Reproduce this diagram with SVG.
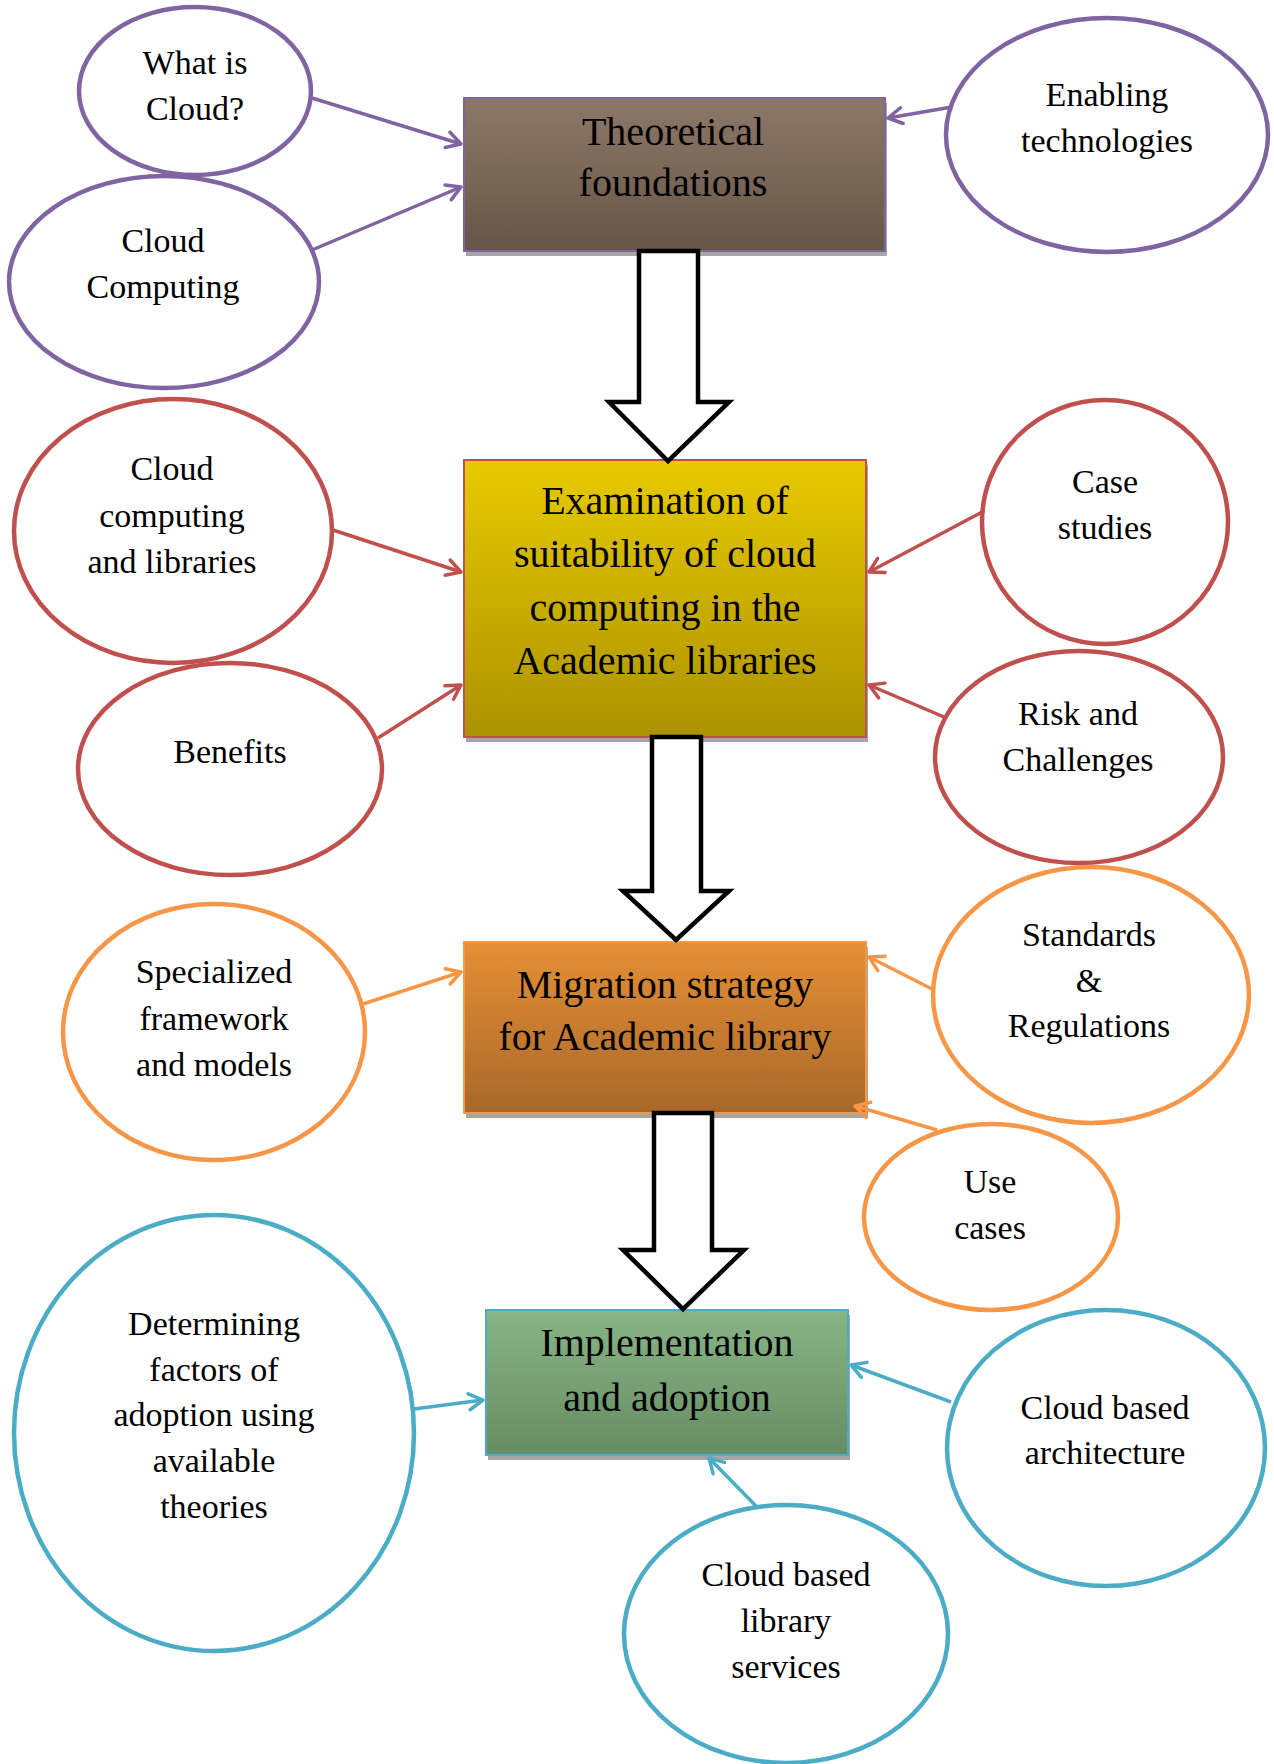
<svg xmlns="http://www.w3.org/2000/svg" width="1274" height="1764" viewBox="0 0 1274 1764">
<style>
.t{font-family:"Liberation Serif","Times New Roman",serif;fill:#000;text-anchor:middle}
.e{font-size:34px}
.b{font-size:40px}
.pu{stroke:#8064A2}
.rd{stroke:#C0504D}
.or{stroke:#F79646}
.bl{stroke:#4BACC6}
ellipse{fill:#fff;stroke-width:4.5}
.c line{stroke-width:3.5;fill:none}
.sh{fill:#a6a6a6}
.blk{fill:#fff;stroke:#000;stroke-width:4.5;stroke-linejoin:miter}
</style>
<defs>
<linearGradient id="g1" x1="0" y1="0" x2="0" y2="1"><stop offset="0" stop-color="#8D7868"/><stop offset="1" stop-color="#665647"/></linearGradient>
<linearGradient id="g2" x1="0" y1="0" x2="0" y2="1"><stop offset="0" stop-color="#E8CA00"/><stop offset="1" stop-color="#AC9200"/></linearGradient>
<linearGradient id="g3" x1="0" y1="0" x2="0" y2="1"><stop offset="0" stop-color="#E68F35"/><stop offset="1" stop-color="#A8682A"/></linearGradient>
<linearGradient id="g4" x1="0" y1="0" x2="0" y2="1"><stop offset="0" stop-color="#88B585"/><stop offset="1" stop-color="#668C64"/></linearGradient>
<marker id="mpu" viewBox="0 0 20 20" refX="18" refY="10" markerWidth="20" markerHeight="20" orient="auto" markerUnits="userSpaceOnUse"><path d="M4,2 L18,10 L4,18" fill="none" stroke="#8064A2" stroke-width="3.5" stroke-linecap="round" stroke-linejoin="round"/></marker>
<marker id="mrd" viewBox="0 0 20 20" refX="18" refY="10" markerWidth="20" markerHeight="20" orient="auto" markerUnits="userSpaceOnUse"><path d="M4,2 L18,10 L4,18" fill="none" stroke="#C0504D" stroke-width="3.5" stroke-linecap="round" stroke-linejoin="round"/></marker>
<marker id="mor" viewBox="0 0 20 20" refX="18" refY="10" markerWidth="20" markerHeight="20" orient="auto" markerUnits="userSpaceOnUse"><path d="M4,2 L18,10 L4,18" fill="none" stroke="#F79646" stroke-width="3.5" stroke-linecap="round" stroke-linejoin="round"/></marker>
<marker id="mbl" viewBox="0 0 20 20" refX="18" refY="10" markerWidth="20" markerHeight="20" orient="auto" markerUnits="userSpaceOnUse"><path d="M4,2 L18,10 L4,18" fill="none" stroke="#4BACC6" stroke-width="3.5" stroke-linecap="round" stroke-linejoin="round"/></marker>
</defs>

<!-- main boxes -->
<g id="theoretical">
<rect class="sh" x="466" y="103" width="421" height="153"/>
<rect x="464" y="98" width="421" height="153" fill="url(#g1)" stroke="#8064A2" stroke-width="2"/>
<text class="t b" x="673" y="145">Theoretical</text>
<text class="t b" x="673" y="196">foundations</text>
</g>
<g id="examination">
<rect class="sh" x="466" y="465" width="402" height="277"/>
<rect x="464" y="460" width="402" height="277" fill="url(#g2)" stroke="#C0504D" stroke-width="2"/>
<text class="t b" x="665" y="514">Examination of</text>
<text class="t b" x="665" y="567">suitability of cloud</text>
<text class="t b" x="665" y="621">computing in the</text>
<text class="t b" x="665" y="674">Academic libraries</text>
</g>
<g id="migration">
<rect class="sh" x="466" y="947" width="402" height="171"/>
<rect x="464" y="942" width="402" height="171" fill="url(#g3)" stroke="#F79646" stroke-width="2"/>
<text class="t b" x="665" y="998">Migration strategy</text>
<text class="t b" x="665" y="1050">for Academic library</text>
</g>
<g id="implementation">
<rect class="sh" x="488" y="1315" width="362" height="145"/>
<rect x="486" y="1310" width="362" height="145" fill="url(#g4)" stroke="#4BACC6" stroke-width="2"/>
<text class="t b" x="667" y="1356">Implementation</text>
<text class="t b" x="667" y="1411">and adoption</text>
</g>

<!-- block arrows -->
<g id="flow-arrows">
<path class="blk" d="M639,251 L639,402 L609,402 L668,461 L729,402 L698,402 L698,251 Z"/>
<path class="blk" d="M652,737 L652,891 L623,891 L676,940 L729,891 L701,891 L701,737 Z"/>
<path class="blk" d="M654,1113 L654,1250 L623,1250 L683,1309 L744,1250 L712,1250 L712,1113 Z"/>
</g>

<!-- satellite nodes -->
<g id="what-is-cloud"><ellipse class="pu" cx="195" cy="91" rx="116" ry="84"/>
<text class="t e" x="195" y="74">What is</text><text class="t e" x="195" y="120">Cloud?</text></g>
<g id="cloud-computing"><ellipse class="pu" cx="164" cy="282" rx="155" ry="106"/>
<text class="t e" x="163" y="252">Cloud</text><text class="t e" x="163" y="298">Computing</text></g>
<g id="enabling"><ellipse class="pu" cx="1107" cy="135" rx="161" ry="117"/>
<text class="t e" x="1107" y="106">Enabling</text><text class="t e" x="1107" y="152">technologies</text></g>

<g id="cc-libraries"><ellipse class="rd" cx="173" cy="531" rx="159" ry="132"/>
<text class="t e" x="172" y="480">Cloud</text><text class="t e" x="172" y="527">computing</text><text class="t e" x="172" y="573">and libraries</text></g>
<g id="benefits"><ellipse class="rd" cx="230" cy="769" rx="152" ry="106"/>
<text class="t e" x="230" y="763">Benefits</text></g>
<g id="case-studies"><ellipse class="rd" cx="1105" cy="522" rx="123" ry="122"/>
<text class="t e" x="1105" y="493">Case</text><text class="t e" x="1105" y="539">studies</text></g>
<g id="risk"><ellipse class="rd" cx="1079" cy="757" rx="144" ry="106"/>
<text class="t e" x="1078" y="725">Risk and</text><text class="t e" x="1078" y="771">Challenges</text></g>

<g id="specialized"><ellipse class="or" cx="214" cy="1032" rx="151" ry="128"/>
<text class="t e" x="214" y="983">Specialized</text><text class="t e" x="214" y="1030">framework</text><text class="t e" x="214" y="1076">and models</text></g>
<g id="standards"><ellipse class="or" cx="1091" cy="995" rx="158" ry="128"/>
<text class="t e" x="1089" y="946">Standards</text><text class="t e" x="1089" y="992">&amp;</text><text class="t e" x="1089" y="1037">Regulations</text></g>
<g id="use-cases"><ellipse class="or" cx="991" cy="1217" rx="127" ry="93"/>
<text class="t e" x="990" y="1193">Use</text><text class="t e" x="990" y="1239">cases</text></g>

<g id="determining"><ellipse class="bl" cx="214" cy="1433" rx="200" ry="218"/>
<text class="t e" x="214" y="1335">Determining</text><text class="t e" x="214" y="1381">factors of</text><text class="t e" x="214" y="1426">adoption using</text><text class="t e" x="214" y="1472">available</text><text class="t e" x="214" y="1518">theories</text></g>
<g id="architecture"><ellipse class="bl" cx="1106" cy="1448" rx="159" ry="138"/>
<text class="t e" x="1105" y="1419">Cloud based</text><text class="t e" x="1105" y="1464">architecture</text></g>
<g id="library-services"><ellipse class="bl" cx="786" cy="1634" rx="162" ry="129"/>
<text class="t e" x="786" y="1586">Cloud based</text><text class="t e" x="786" y="1632">library</text><text class="t e" x="786" y="1678">services</text></g>

<!-- connectors -->
<g id="connectors" class="c">
<line class="pu" x1="312" y1="98" x2="461" y2="144" marker-end="url(#mpu)"/>
<line class="pu" x1="312" y1="250" x2="461" y2="187" marker-end="url(#mpu)"/>
<line class="pu" x1="952" y1="107" x2="888" y2="118" marker-end="url(#mpu)"/>
<line class="rd" x1="333" y1="530" x2="461" y2="572" marker-end="url(#mrd)"/>
<line class="rd" x1="378" y1="738" x2="461" y2="685" marker-end="url(#mrd)"/>
<line class="rd" x1="984" y1="511" x2="869" y2="572" marker-end="url(#mrd)"/>
<line class="rd" x1="944" y1="717" x2="869" y2="685" marker-end="url(#mrd)"/>
<line class="or" x1="363" y1="1004" x2="461" y2="972" marker-end="url(#mor)"/>
<line class="or" x1="934" y1="990" x2="869" y2="957" marker-end="url(#mor)"/>
<line class="or" x1="937" y1="1130" x2="855" y2="1106" marker-end="url(#mor)"/>
<line class="bl" x1="414" y1="1409" x2="483" y2="1400" marker-end="url(#mbl)"/>
<line class="bl" x1="951" y1="1402" x2="851" y2="1365" marker-end="url(#mbl)"/>
<line class="bl" x1="756" y1="1506" x2="709" y2="1458" marker-end="url(#mbl)"/>
</g>
</svg>
